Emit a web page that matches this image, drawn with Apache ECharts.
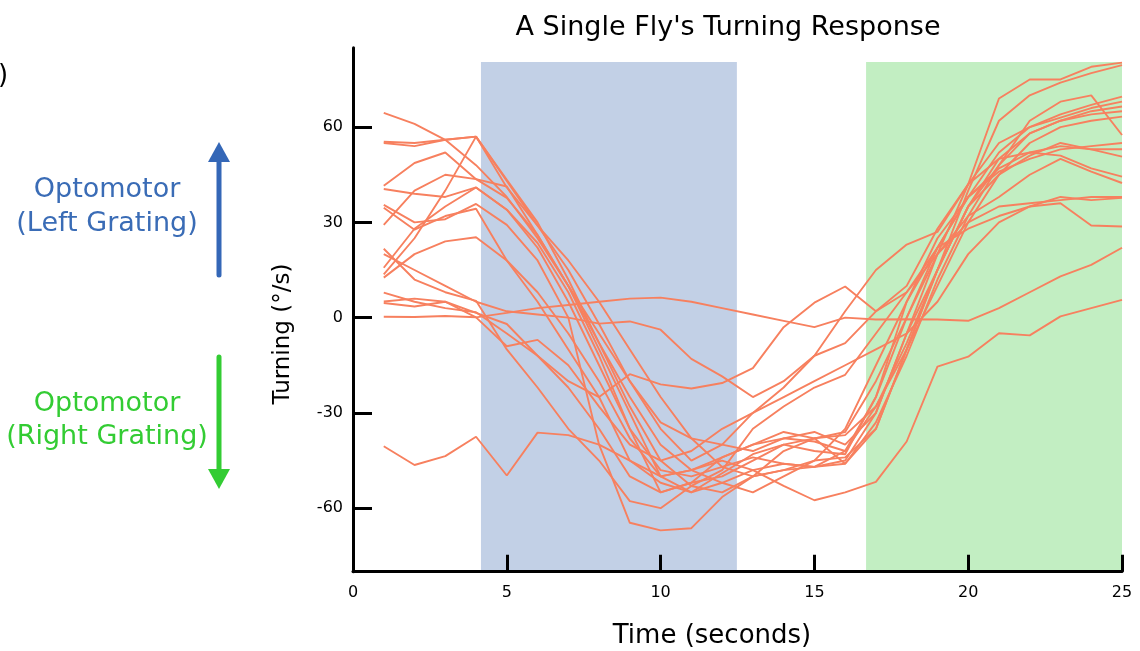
<!DOCTYPE html>
<html>
<head>
<meta charset="utf-8">
<script src="https://cdn.jsdelivr.net/npm/echarts@6/dist/echarts.min.js"></script>
<style>
html,body{margin:0;padding:0;background:#fff;}
#chart{width:1140px;height:651px;}
</style>
</head>
<body>
<div id="chart"></div>
<script>
const times = [1,2,3,4,5,6,7,8,9,10,11,12,13,14,15,16,17,18,19,20,21,22,23,24,25];
const xTicks = [0,5,10,15,20,25];
const yTicks = [-60,-30,0,30,60];
const leftGratingSpan = [4.16, 12.48];
const rightGratingSpan = [16.68, 25];
const shadeRange = [-80, 80.5];

const trial01 = [64.5,61,56,48,38,25,10,-5,-20,-33,-38,-40,-42,-38,-36,-40,-30,-5,15,35,45,51,55,53,50.7];
const trial02 = [55.4,55,56,57,43,29,15,-2,-20,-35,-45,-40,-30,-22,-12,2,15,23,27,42,69,75,75,79,80.3];
const trial03 = [55,54,56,57,41,29,18,5,-10,-25,-38,-47,-50,-48,-45,-44,-35,-10,15,35,48,62,68,70,57.5];
const trial04 = [41.5,48.7,52,43.6,37.7,26,10,-10,-30,-50,-55,-52,-48,-46,-47,-45,-30,-5,20,42,55,60,64,67,69.6];
const trial05 = [40.5,39,38,41,34,23.5,8,-12,-35,-55,-52,-44,-40,-38,-39,-42,-25,5,25,38,47,52,51,47,44.4];
const trial06 = [35.5,30,31,35.8,29.2,18,0,-40,-64.6,-67,-66.3,-56.5,-50,-48,-47,-42,-28,-10,10,30,45,55,60,62,63.3];
const trial07 = [34.6,27.7,32,34.3,18,5,-10,-25,-45,-52,-55,-49,-43,-40,-38,-36,-20,0,20,32,38,45,50,46,42.4];
const trial08 = [29.2,40,45,43.6,41.3,26,10,-8,-25,-40,-48,-52,-55,-50,-45,-35,-15,5,22,38,52,60,63,66,68];
const trial09 = [21.7,12,8,5.3,-10,-22,-35,-45,-57.8,-60,-53,-48,-35,-28,-22,-18,-5,8,22,28,32,35,38,37,37.7];
const trial10 = [15.7,28,35,41,34,22,5,-15,-35,-48,-50,-47,-44,-46,-47,-46,-33,-12,12,32,48,58,62,65,66.5];
const trial11 = [13.6,25,40,57,43.4,30,12,-8,-28,-45,-53,-55,-50,-42,-38,-37,-28,-8,15,40,62,70,74,77,79.5];
const trial12 = [12.6,20,24,25.3,18,8,-5,-20,-38,-50,-48,-45,-48,-53,-57.5,-55,-51.7,-39,-15.4,-12.3,-4.9,-5.6,0.4,3,5.6];
const trial13 = [7.9,5,3,1.7,-5,-12,-20,-25,-17.8,-21,-22.3,-20.6,-15.9,-3,4.7,9.8,2,8,20,30,35,36,37,38,38];
const trial14 = [5.1,6,5,0.1,-9,-7,-15,-28,-40,-45,-42,-35,-30,-25,-20,-15,-10,-5,5,20,30,35,36,29,28.7];
const trial15 = [4.6,3.5,5,1.5,-2,-12,-22,-35,-50,-55,-52,-50,-45,-40,-42,-43,-25,0,22,38,46,50,53,54,55];
const trial16 = [0.3,0.2,0.5,0.1,1.5,3,4,5,6,6.3,5,3,1,-1,-3,0,-0.6,-0.5,-0.6,-1,3,8,13,16.6,22];
const trial17 = [-40.5,-46.4,-43.6,-37.5,-49.7,-36.2,-37,-40,-45,-50,-48,-44,-40,-36,-38,-46,-35,-10,15,35,50,58,62,64,65];
const trial18 = [20,15,10,5,2,1,0,-1.9,-1.2,-3.8,-13,-18.5,-25,-20,-12,-8,2,10,28,42,50,52,54,53,53];

const trials = [trial01,trial02,trial03,trial04,trial05,trial06,trial07,trial08,trial09,
                trial10,trial11,trial12,trial13,trial14,trial15,trial16,trial17,trial18];

const FONT = 'DejaVu Sans';
const LINE = '#F7805F';

const chart = echarts.init(document.getElementById('chart'), null, {renderer:'canvas'});

const series = [{
  type: 'line', data: [], z: 1, silent: true,
  markArea: {
    silent: true,
    data: [
      [{xAxis: leftGratingSpan[0], yAxis: shadeRange[0], itemStyle:{color:'#C2D0E6'}}, {xAxis: leftGratingSpan[1], yAxis: shadeRange[1]}],
      [{xAxis: rightGratingSpan[0], yAxis: shadeRange[0], itemStyle:{color:'#C2EEC2'}}, {xAxis: rightGratingSpan[1], yAxis: shadeRange[1]}]
    ]
  }
}];
trials.forEach(tr => {
  series.push({
    type: 'line', z: 3, showSymbol: false, silent: true,
    data: times.map((t, i) => [t, tr[i]]),
    lineStyle: {color: LINE, width: 1.9},
    emphasis: {disabled: true}
  });
});

function htext(x, y, text, size, color, align) {
  return {type:'text', x: x, y: y,
    style:{text: text, font: size + 'px "DejaVu Sans"', fill: color, align: align || 'center', verticalAlign:'middle'}};
}

const option = {
  animation: false,
  backgroundColor: '#fff',
  grid: {left: 353, right: 18, top: 47.7, bottom: 79.3, containLabel: false},
  xAxis: {
    type: 'value', min: 0, max: 25, interval: 5, z: 10,
    splitLine: {show: false},
    axisLine: {show: true, onZero: false, lineStyle: {color: '#000', width: 3}},
    axisTick: {show: true, inside: true, length: 17, lineStyle: {color: '#000', width: 3}, customValues: xTicks},
    axisLabel: {color: '#000', fontFamily: FONT, fontSize: 16, margin: 13, customValues: xTicks}
  },
  yAxis: {
    type: 'value', min: -80, max: 85, z: 10,
    splitLine: {show: false},
    axisLine: {show: true, onZero: false, lineStyle: {color: '#000', width: 3}},
    axisTick: {show: true, inside: true, length: 19, lineStyle: {color: '#000', width: 3}, customValues: yTicks},
    axisLabel: {color: '#000', fontFamily: FONT, fontSize: 16, margin: 10, customValues: yTicks}
  },
  series: series,
  graphic: [
    htext(728, 28, "A Single Fly's Turning Response", 27, '#000'),
    htext(712, 636, 'Time (seconds)', 26, '#000'),
    {type:'text', x: 283, y: 334, rotation: Math.PI/2,
      style:{text:'Turning (°/s)', font:'23px "DejaVu Sans"', fill:'#000', align:'center', verticalAlign:'middle'}},
    htext(-2, 76, ')', 26, '#000', 'left'),
    htext(107, 190, 'Optomotor', 27, '#3A6CB6'),
    htext(107, 224, '(Left Grating)', 27, '#3A6CB6'),
    htext(107, 404, 'Optomotor', 27, '#33CC33'),
    htext(107, 437, '(Right Grating)', 27, '#33CC33'),
    {type:'polyline', shape:{points:[[219,275],[219,158]]}, style:{stroke:'#3467B7', lineWidth:5, lineCap:'round'}},
    {type:'polygon', shape:{points:[[219,142],[230,162],[208,162]]}, style:{fill:'#3467B7'}},
    {type:'polyline', shape:{points:[[219,357],[219,472]]}, style:{stroke:'#33CC33', lineWidth:5, lineCap:'round'}},
    {type:'polygon', shape:{points:[[219,489],[230,469],[208,469]]}, style:{fill:'#33CC33'}}
  ]
};
chart.setOption(option);
</script>
</body>
</html>
